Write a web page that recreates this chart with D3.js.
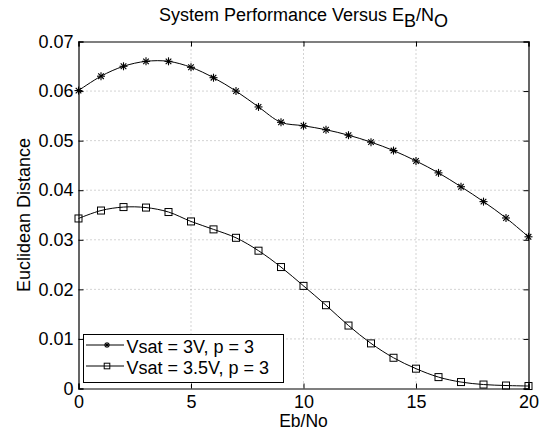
<!DOCTYPE html>
<html><head><meta charset="utf-8">
<script src="https://cdn.jsdelivr.net/npm/d3@7"></script>
<style>body{margin:0;background:#fff}svg{display:block;font-family:"Liberation Sans",Arial,sans-serif}</style>
</head><body><svg id="c" width="544" height="437"></svg>
<script>
const ebno = [0,1,2,3,4,5,6,7,8,9,10,11,12,13,14,15,16,17,18,19,20];
const vsat3 = [0.0601,0.0630,0.0650,0.0660,0.0660,0.0648,0.0627,0.0600,0.0568,0.0537,0.0530,0.0522,0.0511,0.0497,0.0480,0.0459,0.0435,0.0407,0.0377,0.0344,0.0306];
const vsat35 = [0.0343,0.0359,0.0366,0.0365,0.0356,0.0337,0.0321,0.0304,0.0278,0.0245,0.0207,0.0168,0.0127,0.0091,0.0062,0.0040,0.0023,0.0013,0.0008,0.0006,0.0005];
const xTicks = [0,5,10,15,20];
const yTicks = [0,0.01,0.02,0.03,0.04,0.05,0.06,0.07];
const seriesNames = ["Vsat = 3V, p = 3","Vsat = 3.5V, p = 3"];

const svg = d3.select("#c");
const L=78.5,R=528.5,T=41.5,B=388.5;
const x = d3.scaleLinear().domain([0,20]).range([L,R]);
const y = d3.scaleLinear().domain([0,0.07]).range([B,T]);

// grid
const g = svg.append("g");
g.selectAll(".gx").data(xTicks.slice(1,-1)).enter().append("line")
 .attr("x1",d=>x(d)).attr("x2",d=>x(d)).attr("y1",T).attr("y2",B)
 .attr("stroke","#000").attr("stroke-opacity",0.35).attr("stroke-width",1).attr("stroke-dasharray","1,3");
g.selectAll(".gy").data(yTicks.slice(1,-1)).enter().append("line")
 .attr("y1",d=>y(d)).attr("y2",d=>y(d)).attr("x1",L).attr("x2",R)
 .attr("stroke","#000").attr("stroke-opacity",0.35).attr("stroke-width",1).attr("stroke-dasharray","1,3");

// axes
const fs = 18;
const xa = svg.append("g").attr("transform",`translate(0,${B})`)
 .call(d3.axisBottom(x).tickValues(xTicks).tickSize(-5).tickPadding(7).tickFormat(d3.format("d")));
const xa2 = svg.append("g").attr("transform",`translate(0,${T})`)
 .call(d3.axisTop(x).tickValues(xTicks).tickSize(-5).tickFormat(""));
const ya = svg.append("g").attr("transform",`translate(${L},0)`)
 .call(d3.axisLeft(y).tickValues(yTicks).tickSize(-5).tickPadding(5).tickFormat(d=>d===0?"0":d3.format(".2f")(d)));
const ya2 = svg.append("g").attr("transform",`translate(${R},0)`)
 .call(d3.axisRight(y).tickValues(yTicks).tickSize(-5).tickFormat(""));
[xa,xa2,ya,ya2].forEach(a=>{
  a.selectAll("path").attr("stroke","#000").attr("stroke-width",1.2);
  a.selectAll("line").attr("stroke","#000");
  a.selectAll("text").attr("font-size",fs).attr("font-family","Liberation Sans, Arial, sans-serif").attr("fill","#000");
});

// lines
const line = d3.line().x((d,i)=>x(ebno[i])).y(d=>y(d)).curve(d3.curveCatmullRom.alpha(0.5));
svg.append("path").attr("d",line(vsat3)).attr("fill","none").attr("stroke","#000").attr("stroke-width",1);
svg.append("path").attr("d",line(vsat35)).attr("fill","none").attr("stroke","#000").attr("stroke-width",1);

function star(sel,cx,cy,r){
  const gg = sel.append("g").attr("transform",`translate(${cx},${cy})`);
  [[-r,0,r,0],[0,-r,0,r],[-r*0.7,-r*0.7,r*0.7,r*0.7],[-r*0.7,r*0.7,r*0.7,-r*0.7]].forEach(s=>
    gg.append("line").attr("x1",s[0]).attr("y1",s[1]).attr("x2",s[2]).attr("y2",s[3]).attr("stroke","#000").attr("stroke-width",1.1));
}
function square(sel,cx,cy,r){
  sel.append("rect").attr("x",cx-r).attr("y",cy-r).attr("width",2*r).attr("height",2*r)
   .attr("fill","none").attr("stroke","#000").attr("stroke-width",1);
}
const m = svg.append("g");
vsat3.forEach((v,i)=>star(m,x(ebno[i]),y(v),4));
vsat35.forEach((v,i)=>square(m,x(ebno[i]),y(v),3.5));

// legend
const lg = svg.append("g");
lg.append("rect").attr("x",83.5).attr("y",334.5).attr("width",200).attr("height",48)
 .attr("fill","#fff").attr("stroke","#000").attr("stroke-width",1);
[0,1].forEach(i=>{
  const yy = 345 + i*21;
  lg.append("line").attr("x1",86).attr("x2",124).attr("y1",yy).attr("y2",yy).attr("stroke","#000");
  if(i===0) star(lg,107,yy,3); else square(lg,107,yy,2.8);
  lg.append("text").attr("x",126.5).attr("y",yy+8).attr("font-size",18).text(seriesNames[i]);
});

// labels
const title = svg.append("text").attr("x",(L+R)/2).attr("y",21).attr("text-anchor","middle").attr("font-size",18);
title.append("tspan").text("System Performance Versus E");
title.append("tspan").attr("dy",6).text("B");
title.append("tspan").attr("dy",-6).text("/N");
title.append("tspan").attr("dy",6).text("O");
svg.append("text").attr("x",(L+R)/2).attr("y",427).attr("text-anchor","middle").attr("font-size",17.5).text("Eb/No");
svg.append("text").attr("transform",`translate(30,${(T+B)/2}) rotate(-90)`).attr("text-anchor","middle").attr("font-size",18).text("Euclidean Distance");
</script></body></html>
